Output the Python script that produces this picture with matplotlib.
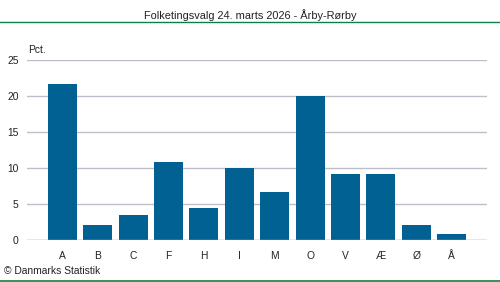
import matplotlib
matplotlib.use("Agg")
import matplotlib.pyplot as plt
from matplotlib.lines import Line2D

plt.rcParams['font.family'] = ['Liberation Sans', 'DejaVu Sans']

categories = ["A", "B", "C", "F", "H", "I", "M", "O", "V", "Æ", "Ø", "Å"]
values = [21.7, 2.1, 3.5, 10.8, 4.4, 10.0, 6.7, 20.0, 9.2, 9.2, 2.1, 0.8]
yticks = [0, 5, 10, 15, 20, 25]

fig = plt.figure(figsize=(5, 2.82), dpi=100)
ax = fig.add_axes([27/500, 1-240/282, 460/500, 180/282])
x = list(range(len(categories)))
ax.bar(x, values, width=0.82, color="#006192", zorder=3)
ax.set_xlim(-1, 12)
ax.set_ylim(0, 25)
ax.set_yticks(yticks)
ax.set_yticklabels([str(t) for t in yticks], fontsize=7.4)
ax.set_xticks(x)
ax.set_xticklabels(categories, fontsize=7.4)
ax.grid(axis='y', color="#bebec8", linewidth=1, zorder=0)
for s in ax.spines.values():
    s.set_visible(False)
ax.tick_params(axis='both', length=0, pad=6, colors="#222222")
ax.tick_params(axis='x', pad=8)
ax.axhline(0, color="#bebec8", linewidth=1, zorder=4)

fig.text(28/500, 1-50/282, "Pct.", fontsize=7.4, ha='left', va='center', color="#222222")
fig.text(250/500, 1-15/282, "Folketingsvalg 24. marts 2026 - Årby-Rørby", fontsize=7.9, ha='center', va='center', color="#222222")
fig.text(4/500, 1-271/282, "© Danmarks Statistik", fontsize=7.4, ha='left', va='center', color="#222222")
fig.add_artist(Line2D([0, 1], [1-22/282, 1-22/282], color="#108040", linewidth=1, transform=fig.transFigure))
fig.add_artist(Line2D([0, 1], [1-281/282, 1-281/282], color="#108040", linewidth=1.2, transform=fig.transFigure))

fig.savefig("out.png", dpi=100)
